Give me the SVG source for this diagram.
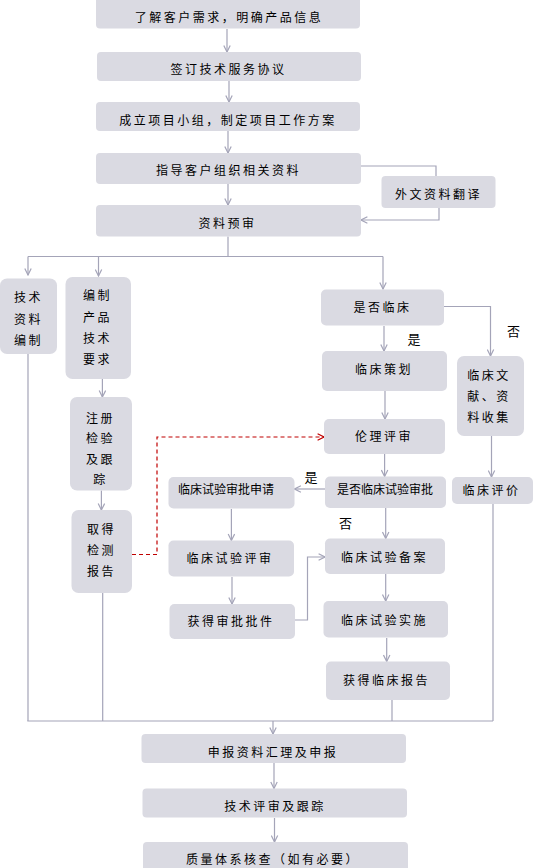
<svg xmlns="http://www.w3.org/2000/svg" width="533" height="868" viewBox="0 0 533 868">
<defs>
<style>
.b{fill:#dadae2;}
.t{font-family:"Noto Sans CJK SC","Noto Sans",sans-serif;font-size:12px;fill:#000;letter-spacing:2.5px;text-anchor:middle;dominant-baseline:central;}
.tn{letter-spacing:0px;}
.lb{font-family:"Noto Sans CJK SC","Noto Sans",sans-serif;font-size:13px;fill:#000;text-anchor:middle;dominant-baseline:central;}
.c{fill:none;stroke:#a4a4b8;stroke-width:1.2;}
.a{marker-end:url(#ar);}
.r{fill:none;stroke:#c00000;stroke-width:1.2;stroke-dasharray:4,3;marker-end:url(#arr);}
</style>
<marker id="ar" viewBox="0 0 10 10" refX="9" refY="5" markerWidth="8" markerHeight="8" markerUnits="userSpaceOnUse" orient="auto">
<path d="M1,1 L9,5 L1,9" fill="none" stroke="#a4a4b8" stroke-width="1.5"/>
</marker>
<marker id="arr" viewBox="0 0 10 10" refX="9" refY="5" markerWidth="8" markerHeight="8" markerUnits="userSpaceOnUse" orient="auto">
<path d="M1,1 L9,5 L1,9" fill="none" stroke="#c00000" stroke-width="1.5"/>
</marker>
</defs>

<g id="connectors">
<path class="c a" d="M227,29 V52"/>
<path class="c a" d="M229,81 V102"/>
<path class="c a" d="M228,131 V153"/>
<path class="c a" d="M228,184 V205"/>
<path class="c" d="M361,166 H436 V176"/>
<path class="c a" d="M439,208 V220 H361"/>
<path class="c" d="M228,236.5 V256.5 M28,256.5 H383"/>
<path class="c a" d="M28,256.5 V275"/>
<path class="c a" d="M98.5,256.5 V276"/>
<path class="c a" d="M383,256.5 V289"/>
<path class="c" d="M28,354 V721"/>
<path class="c a" d="M102.4,379 V397"/>
<path class="c a" d="M101.4,490.5 V510"/>
<path class="c" d="M102.7,593 V721"/>
<path class="r" d="M132,554.5 H157 V437 H324"/>
<path class="c a" d="M384,326 V351"/>
<path class="c a" d="M444,306.5 H490.5 V356"/>
<path class="c a" d="M385,391 V419"/>
<path class="c a" d="M491.5,436 V477"/>
<path class="c a" d="M384.6,454 V476.5"/>
<path class="c a" d="M325,489 H294.5"/>
<path class="c a" d="M385.7,508 V538.5"/>
<path class="c a" d="M231.4,509 V540.5"/>
<path class="c a" d="M232,577 V604"/>
<path class="c a" d="M295,620 H307.5 V557 H325"/>
<path class="c a" d="M385.7,574 V601"/>
<path class="c a" d="M386.7,638 V661.5"/>
<path class="c" d="M392,700 V721"/>
<path class="c" d="M493,504 V721"/>
<path class="c" d="M27.3,721 H493"/>
<path class="c a" d="M273,721 V734"/>
<path class="c a" d="M274,763 V788.5"/>
<path class="c a" d="M274.5,818 V842"/>
<text class="lb" x="414" y="338">是</text>
<text class="lb" x="513.5" y="330">否</text>
<text class="lb" x="311" y="476">是</text>
<text class="lb" x="345.5" y="522">否</text>
</g>

<g id="n1"><rect class="b" x="96" y="-3" width="264" height="31.5" rx="4"/><text class="t" x="229" y="16">了解客户需求，明确产品信息</text></g>
<g id="n2"><rect class="b" x="97" y="52" width="264" height="29" rx="4"/><text class="t" x="228.5" y="68">签订技术服务协议</text></g>
<g id="n3"><rect class="b" x="96" y="102" width="264" height="29" rx="4"/><text class="t" x="228" y="119">成立项目小组，制定项目工作方案</text></g>
<g id="n4"><rect class="b" x="96" y="153" width="265" height="31" rx="4"/><text class="t" x="228.5" y="169">指导客户组织相关资料</text></g>
<g id="n5"><rect class="b" x="96" y="205" width="265" height="31.5" rx="4"/><text class="t" x="227.5" y="222">资料预审</text></g>
<g id="tr"><rect class="b" x="381.5" y="176" width="114" height="32" rx="4"/><text class="t" x="438.5" y="193">外文资料翻译</text></g>

<g id="n6"><rect class="b" x="0" y="278.5" width="57" height="75.5" rx="7"/>
<text class="t" x="28.5"><tspan x="28.5" y="296">技术</tspan><tspan x="28.5" y="318">资料</tspan><tspan x="28.5" y="339">编制</tspan></text></g>
<g id="n7"><rect class="b" x="65.5" y="277" width="65.5" height="102" rx="7"/>
<text class="t" x="97.5"><tspan x="97.5" y="294">编制</tspan><tspan x="97.5" y="316">产品</tspan><tspan x="97.5" y="337">技术</tspan><tspan x="97.5" y="358">要求</tspan></text></g>
<g id="n8"><rect class="b" x="70" y="397" width="62" height="93.5" rx="7"/>
<text class="t" x="100.5"><tspan x="100.5" y="416.5">注册</tspan><tspan x="100.5" y="437">检验</tspan><tspan x="100.5" y="457.5">及跟</tspan><tspan x="100.5" y="478">踪</tspan></text></g>
<g id="n9"><rect class="b" x="71.5" y="510" width="60.5" height="83" rx="7"/>
<text class="t" x="101.5"><tspan x="101.5" y="528">取得</tspan><tspan x="101.5" y="549">检测</tspan><tspan x="101.5" y="570">报告</tspan></text></g>

<g id="n10"><rect class="b" x="321" y="289.5" width="123" height="36" rx="5"/><text class="t" x="382.5" y="306.5">是否临床</text></g>
<g id="n11"><rect class="b" x="322" y="351" width="125" height="40" rx="5"/><text class="t" x="384" y="368.5">临床策划</text></g>
<g id="n12"><rect class="b" x="457" y="356" width="67" height="80" rx="7"/>
<text class="t" x="489"><tspan x="489" y="374">临床文</tspan><tspan x="489" y="394.5">献、资</tspan><tspan x="489" y="416">料收集</tspan></text></g>
<g id="n13"><rect class="b" x="324" y="419" width="121" height="35" rx="5"/><text class="t" x="384" y="435.5">伦理评审</text></g>
<g id="n14"><rect class="b" x="452" y="477" width="81" height="27" rx="5"/><text class="t" x="491.5" y="489">临床评价</text></g>
<g id="n15"><rect class="b" x="325" y="476.5" width="121" height="31.5" rx="5"/><text class="t tn" x="385" y="488.5">是否临床试验审批</text></g>
<g id="n16"><rect class="b" x="168.5" y="477" width="126" height="31.5" rx="5"/><text class="t tn" x="226" y="488.5">临床试验审批申请</text></g>
<g id="n17"><rect class="b" x="168.5" y="540.5" width="125.5" height="36" rx="5"/><text class="t" x="230" y="557.5">临床试验评审</text></g>
<g id="n18"><rect class="b" x="169.5" y="604" width="125.5" height="35" rx="5"/><text class="t" x="231" y="620">获得审批批件</text></g>
<g id="n19"><rect class="b" x="325" y="538.5" width="120" height="35.5" rx="5"/><text class="t" x="384.5" y="556">临床试验备案</text></g>
<g id="n20"><rect class="b" x="323.5" y="601" width="124.5" height="36.5" rx="5"/><text class="t" x="384.5" y="619">临床试验实施</text></g>
<g id="n21"><rect class="b" x="326" y="661.5" width="124" height="38.5" rx="5"/><text class="t" x="386.5" y="679">获得临床报告</text></g>

<g id="n22"><rect class="b" x="141.5" y="734" width="264.5" height="29" rx="4"/><text class="t" x="273" y="751">申报资料汇理及申报</text></g>
<g id="n23"><rect class="b" x="142.5" y="788.5" width="264.5" height="29" rx="4"/><text class="t" x="275" y="805.5">技术评审及跟踪</text></g>
<g id="n24"><rect class="b" x="143" y="842" width="265" height="32" rx="4"/><text class="t" x="273" y="858.5">质量体系核查（如有必要）</text></g>
</svg>
